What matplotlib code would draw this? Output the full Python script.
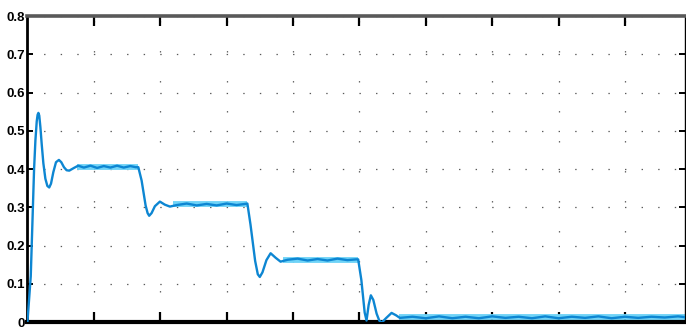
import numpy as np
import matplotlib
matplotlib.use("Agg")
import matplotlib.pyplot as plt

plt.rcParams['lines.scale_dashes'] = False

# step response, read point by point (time in s, output)
t = [0.00, 0.05, 0.10, 0.12, 0.14, 0.153, 0.165, 0.178, 0.195, 0.215,
     0.24, 0.27, 0.30, 0.328, 0.355, 0.39, 0.43, 0.474, 0.51, 0.55,
     0.59, 0.63, 0.70, 0.765, 0.85, 0.95, 1.05, 1.15, 1.25, 1.35,
     1.45, 1.55, 1.63, 1.67, 1.72, 1.78, 1.81, 1.834, 1.87, 1.92,
     1.995, 2.07, 2.146, 2.25, 2.40, 2.55, 2.70, 2.85, 3.00, 3.15,
     3.28, 3.313, 3.36, 3.43, 3.47, 3.50, 3.54, 3.60, 3.663, 3.74,
     3.813, 3.92, 4.07, 4.22, 4.37, 4.52, 4.67, 4.82, 4.95, 4.982,
     5.03, 5.08, 5.108, 5.14, 5.173, 5.21, 5.26, 5.30, 5.334, 5.40,
     5.485, 5.55, 5.61, 5.80, 6.00, 6.20, 6.40, 6.60, 6.80, 7.00,
     7.20, 7.40, 7.60, 7.80, 8.00, 8.20, 8.40, 8.60, 8.80, 9.00,
     9.20, 9.40, 9.60, 9.80, 9.95]
y = [0.000, 0.120, 0.400, 0.475, 0.525, 0.542, 0.547, 0.540, 0.510, 0.465,
     0.415, 0.375, 0.356, 0.352, 0.362, 0.392, 0.418, 0.424, 0.418, 0.405,
     0.397, 0.396, 0.403, 0.409, 0.404, 0.409, 0.403, 0.408, 0.404, 0.409,
     0.404, 0.408, 0.405, 0.405, 0.370, 0.305, 0.285, 0.278, 0.285, 0.303,
     0.315, 0.307, 0.302, 0.306, 0.310, 0.305, 0.309, 0.305, 0.310, 0.306,
     0.309, 0.310, 0.255, 0.160, 0.125, 0.118, 0.130, 0.162, 0.180, 0.168,
     0.158, 0.163, 0.166, 0.161, 0.165, 0.161, 0.166, 0.162, 0.164, 0.164,
     0.110, 0.025, 0.004, 0.045, 0.070, 0.058, 0.022, 0.004, -0.002, 0.010,
     0.024, 0.018, 0.011, 0.014, 0.010, 0.015, 0.010, 0.014, 0.010, 0.015,
     0.011, 0.014, 0.010, 0.015, 0.010, 0.014, 0.011, 0.015, 0.010, 0.014,
     0.011, 0.014, 0.012, 0.015, 0.012]

# reference levels (drawn as the light band behind the response)
ref_t = [0.75, 1.66, np.nan, 2.20, 3.31, np.nan, 3.85, 4.98, np.nan, 5.60, 9.95]
ref_v = [0.406, 0.406, np.nan, 0.308, 0.308, np.nan, 0.1635, 0.1635, np.nan, 0.0125, 0.0125]

yticks = [0, 0.1, 0.2, 0.3, 0.4, 0.5, 0.6, 0.7, 0.8]
ytick_labels = ['0', '0.1', '0.2', '0.3', '0.4', '0.5', '0.6', '0.7', '0.8']
xticks = [1, 2, 3, 4, 5, 6, 7, 8, 9]

fig = plt.figure(figsize=(6.86, 3.29), dpi=100)
ax = fig.add_axes([0.040, 0.021, 0.959, 0.930])

ax.plot(ref_t, ref_v, color='#6fd3f7', lw=4.2, solid_capstyle='butt', zorder=2)
ax.plot(t, y, color='#0d86d2', lw=1.7, zorder=3)

ax.set_xlim(0, 9.91)
ax.set_ylim(0, 0.8)
ax.set_xticks(xticks)
ax.set_xticklabels([])
ax.set_yticks(yticks)
ax.set_yticklabels(ytick_labels, fontsize=9.5, fontweight='bold',
                   family=['Liberation Sans', 'DejaVu Sans'])

ax.tick_params(axis='x', direction='in', length=7, width=1.6, color='black',
               top=True, bottom=True)
ax.tick_params(axis='y', direction='in', length=4, width=1.4, color='black',
               left=True, right=True, pad=2)

ax.xaxis.grid(True, linestyle=(0, (1.0, 20.6)), color='0.35', lw=0.9)
ax.yaxis.grid(True, linestyle=(0, (1.0, 10.95)), color='0.35', lw=0.9)

for side, lw, col in [('left', 2.0, 'black'), ('bottom', 3.0, 'black'),
                      ('top', 2.6, '0.35'), ('right', 1.0, 'black')]:
    ax.spines[side].set_linewidth(lw)
    ax.spines[side].set_color(col)

fig.savefig('out.png', dpi=100)
